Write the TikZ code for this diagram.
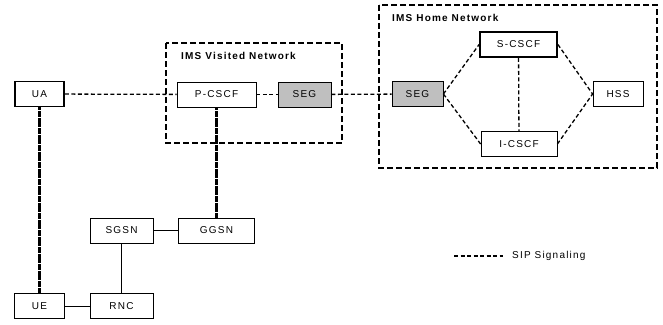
\documentclass[tikz,border=0pt]{standalone}
\usepackage{fontspec}
\setmainfont{Liberation Sans}[LetterSpace=12]
\usepackage{tikz}
\usetikzlibrary{positioning}

\definecolor{segGray}{gray}{0.75}

\begin{document}
\begin{tikzpicture}[x=1pt, y=-1pt]
			\tikzstyle{Box}		= [rectangle, draw, fill=white, line width=0.8pt, inner sep=0pt, minimum height=25pt, font=\fontsize{10}{12}\selectfont]
			\tikzstyle{Core}	= [Box, line width=1.8pt]
			\tikzstyle{Gate}	= [Box, fill=segGray]
			\tikzstyle{Domain}	= [dash pattern=on 6pt off 3pt, line width=1.5pt]
			\tikzstyle{SIP}		= [dash pattern=on 4pt off 2.5pt, line width=1.3pt]
			\tikzstyle{Bearer}	= [dash pattern=on 3pt off 0.4pt, line width=2.2pt]
			\tikzstyle{Link}	= [line width=0.8pt]
			\tikzstyle{Title}	= [anchor=west, inner sep=0pt, font=\bfseries\fontsize{10}{12}\selectfont]

			\useasboundingbox (0,0) rectangle (663,324);

			% network domains
			\draw [Domain] (166,43) rectangle (342,143);
			\draw [Domain] (379,5) rectangle (657,168);
			\node (visited) at (181,56) [Title] {IMS Visited Network};
			\node (home) at (392,18) [Title] {IMS Home Network};

			\foreach \n/\s/\x/\y/\w/\t in {ua/Core/39.5/94/49/UA, pcscf/Box/216.5/94.5/79/P-CSCF, seg1/Gate/304.5/94.5/53/SEG,
					seg2/Gate/417.5/94/51/SEG, scscf/Core/518.5/44.5/77/S-CSCF, icscf/Box/519/144/76/I-CSCF, hss/Box/618/94/50/HSS,
					sgsn/Box/121.5/230.5/63/SGSN, ggsn/Box/216.5/230.5/76/GGSN, ue/Box/39.5/306/50/UE, rnc/Box/121.5/306/63/RNC}
				\node (\n) at (\x,\y) [\s, minimum width=\w] {\t};

			\foreach \a/\b in {ua/pcscf, pcscf/seg1, seg1/seg2, scscf/icscf}
				\draw (\a) to (\b) [SIP];
			\foreach \a/\b in {seg2.east/scscf.west, seg2.east/icscf.west, scscf.east/hss.west, icscf.east/hss.west}
				\draw (\a) to (\b) [SIP];
			\foreach \a/\b in {ua/ue, pcscf/ggsn}
				\draw (\a) to (\b) [Bearer];
			\foreach \a/\b in {sgsn/ggsn, sgsn/rnc, ue/rnc}
				\draw (\a) to (\b) [Link];

			% legend
			\coordinate (legA) at (454,256);
			\coordinate (legB) at (503,256);
			\draw (legA) to (legB) [SIP];
			\node (legText) [right=9pt of legB, inner sep=0pt, font=\fontsize{10}{12}\selectfont] {SIP Signaling};
		\end{tikzpicture}
\end{document}
